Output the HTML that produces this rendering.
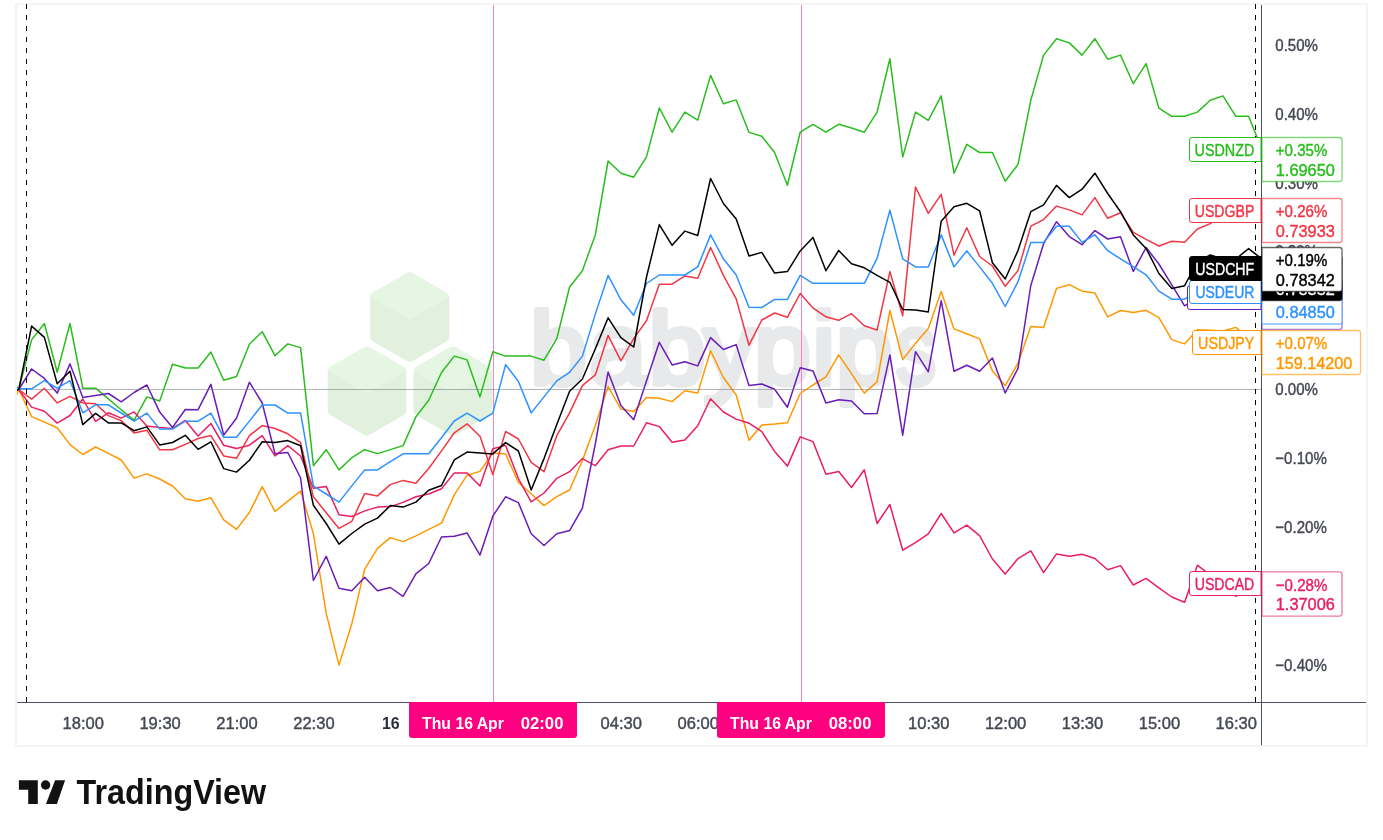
<!DOCTYPE html><html><head><meta charset="utf-8"><title>USD pairs chart</title>
<style>html,body{margin:0;padding:0;background:#fff}svg{display:block}text{font-family:"Liberation Sans", Arial, sans-serif}</style></head><body>
<svg width="1383" height="840" viewBox="0 0 1383 840">
<rect width="1383" height="840" fill="#fff"/>
<rect x="16" y="4" width="1351" height="742" fill="#fff" stroke="#f4f4f5" stroke-width="2"/>
<defs><clipPath id="pane"><rect x="17" y="5" width="1244" height="697"/></clipPath></defs>
<g id="wm">
<path d="M406.7,273.0 Q409.7,271.3 412.7,273.0 L446.2,292.3 Q449.2,294.1 449.2,297.6 L449.2,336.2 Q449.2,339.7 446.2,341.4 L412.7,360.8 Q409.7,362.5 406.7,360.8 L373.2,341.4 Q370.2,339.7 370.2,336.2 L370.2,297.6 Q370.2,294.1 373.2,292.3Z" fill="#e5f6e2"/>
<path d="M449.2,296.7 L449.2,336.7 Q449.2,339.7 446.6,341.2 L412.3,361.0 Q409.7,362.5 407.1,361.0 L372.8,341.2 Q370.2,339.7 370.2,336.7 L370.2,296.7 L409.7,319.5Z" fill="#e1f1de"/>
<path d="M364.0,347.3 Q367.0,345.6 370.0,347.3 L403.2,366.5 Q406.2,368.2 406.2,371.8 L406.2,410.0 Q406.2,413.5 403.2,415.3 L370.0,434.4 Q367.0,436.2 364.0,434.4 L330.8,415.3 Q327.8,413.5 327.8,410.0 L327.8,371.8 Q327.8,368.2 330.8,366.5Z" fill="#e5f6e2"/>
<path d="M406.2,370.9 L406.2,410.5 Q406.2,413.5 403.6,415.0 L369.6,434.7 Q367.0,436.2 364.4,434.7 L330.4,415.0 Q327.8,413.5 327.8,410.5 L327.8,370.9 L367.0,393.5Z" fill="#e1f1de"/>
<path d="M449.9,347.3 Q452.9,345.6 455.9,347.3 L489.1,366.5 Q492.1,368.2 492.1,371.8 L492.1,410.0 Q492.1,413.5 489.1,415.3 L455.9,434.4 Q452.9,436.2 449.9,434.4 L416.7,415.3 Q413.7,413.5 413.7,410.0 L413.7,371.8 Q413.7,368.2 416.7,366.5Z" fill="#e5f6e2"/>
<path d="M492.1,370.9 L492.1,410.5 Q492.1,413.5 489.5,415.0 L455.5,434.7 Q452.9,436.2 450.3,434.7 L416.3,415.0 Q413.7,413.5 413.7,410.5 L413.7,370.9 L452.9,393.5Z" fill="#e1f1de"/>
<text x="530.3 589.6 648.7 703.8 754.0 812.4 836.0" y="383.9" font-size="102" fill="#e8e9eb" stroke="#e8e9eb" stroke-width="6" stroke-linejoin="round">babypip<tspan x="896" textLength="40" lengthAdjust="spacingAndGlyphs">s</tspan></text>
</g>
<line x1="493.5" x2="493.5" y1="5" y2="702" stroke="#ff7fc0" stroke-width="1"/>
<line x1="801.5" x2="801.5" y1="5" y2="702" stroke="#ff7fc0" stroke-width="1"/>
<g clip-path="url(#pane)" fill="none" stroke-width="1.5" stroke-linejoin="round" stroke-linecap="round">
<polyline stroke="#2abd1e" points="18.8,389.5 31.6,339.9 44.4,323.5 57.2,372.2 70.0,323.5 82.8,388.2 95.6,388.2 108.4,398.8 121.2,409.8 134.1,420.2 146.9,396.9 159.7,401.0 172.5,364.3 185.3,368.0 198.1,368.0 210.9,352.0 223.7,380.3 236.5,376.5 249.4,344.2 262.2,331.7 275.0,355.7 287.8,343.9 300.6,347.6 313.4,465.7 326.2,449.7 339.0,469.9 351.8,457.7 364.7,449.7 377.5,453.6 390.3,449.6 403.1,445.6 415.9,416.9 428.7,400.3 441.5,372.5 454.3,356.1 467.1,359.9 480.0,396.9 492.8,351.8 505.6,356.1 518.4,356.1 531.2,356.1 544.0,360.2 556.8,338.6 569.6,287.0 582.4,270.7 595.3,234.9 608.1,161.0 620.9,173.3 633.7,177.2 646.5,156.9 659.3,108.0 672.1,132.1 684.9,112.1 697.7,120.2 710.6,75.4 723.4,103.8 736.2,99.9 749.0,132.4 761.8,136.3 774.6,152.5 787.4,185.2 800.2,132.2 813.0,124.3 825.9,132.2 838.7,124.3 851.5,128.0 864.3,132.2 877.1,112.1 889.9,58.8 902.7,157.0 915.5,112.1 928.3,120.3 941.2,95.9 954.0,173.2 966.8,144.4 979.6,152.5 992.4,152.5 1005.2,181.2 1018.0,164.4 1030.8,100.3 1043.6,55.1 1056.5,38.7 1069.3,42.9 1082.1,55.1 1094.9,38.7 1107.7,59.2 1120.5,55.1 1133.3,83.7 1146.1,63.6 1158.9,108.2 1171.8,116.3 1184.6,116.3 1197.4,112.1 1210.2,100.3 1223.0,95.9 1235.8,116.3 1248.6,116.3 1261.4,148.3"/>
<polyline stroke="#ff9800" points="5.9,420 18.8,389.5 31.6,416.6 44.4,422.1 57.2,427.8 70.0,444.6 82.8,454.5 95.6,447.0 108.4,453.3 121.2,460.0 134.1,478.1 146.9,473.9 159.7,479.0 172.5,486.0 185.3,498.8 198.1,501.2 210.9,497.8 223.7,519.8 236.5,529.4 249.4,512.5 262.2,486.6 275.0,511.5 287.8,501.1 300.6,491.1 313.4,533.5 326.2,613.4 339.0,665.1 351.8,623.7 364.7,569.2 377.5,548.3 390.3,537.6 403.1,541.6 415.9,535.9 428.7,529.3 441.5,523.1 454.3,494.9 467.1,475.2 480.0,471.4 492.8,453.1 505.6,453.9 518.4,482.5 531.2,493.8 544.0,505.6 556.8,496.6 569.6,490.0 582.4,460.5 595.3,425.6 608.1,386.5 620.9,409.1 633.7,411.4 646.5,397.5 659.3,398.2 672.1,401.6 684.9,390.7 697.7,393.1 710.6,350.8 723.4,377.5 736.2,395.0 749.0,440.2 761.8,424.9 774.6,424.0 787.4,422.8 800.2,393.5 813.0,385.0 825.9,376.9 838.7,354.9 851.5,373.7 864.3,393.1 877.1,381.8 889.9,310.5 902.7,359.6 915.5,343.2 928.3,328.6 941.2,291.6 954.0,328.9 966.8,333.8 979.6,338.9 992.4,370.9 1005.2,385.6 1018.0,363.2 1030.8,326.4 1043.6,327.4 1056.5,288.4 1069.3,284.7 1082.1,291.2 1094.9,293.1 1107.7,316.9 1120.5,310.5 1133.3,312.5 1146.1,310.3 1158.9,317.6 1171.8,339.6 1184.6,343.9 1197.4,329.8 1210.2,330.2 1223.0,331.0 1235.8,327.4 1248.6,338.0 1261.4,341.3"/>
<polyline stroke="#e91e63" points="18.8,389.5 31.6,407.1 44.4,411.3 57.2,423.1 70.0,415.5 82.8,399.0 95.6,421.3 108.4,412.8 121.2,418.1 134.1,411.9 146.9,426.0 159.7,427.5 172.5,428.5 185.3,420.4 198.1,436.0 210.9,423.5 223.7,445.3 236.5,448.5 249.4,445.2 262.2,435.6 275.0,455.9 287.8,445.7 300.6,456.0 313.4,488.3 326.2,486.4 339.0,514.7 351.8,516.5 364.7,510.9 377.5,507.1 390.3,506.6 403.1,502.4 415.9,496.8 428.7,494.0 441.5,488.7 454.3,472.9 467.1,472.9 480.0,486.1 492.8,448.8 505.6,445.4 518.4,478.6 531.2,501.8 544.0,493.0 556.8,478.3 569.6,471.7 582.4,458.6 595.3,465.7 608.1,449.7 620.9,446.0 633.7,446.0 646.5,422.8 659.3,426.6 672.1,442.2 684.9,440.1 697.7,425.8 710.6,398.8 723.4,412.0 736.2,419.1 749.0,423.2 761.8,431.7 774.6,451.4 787.4,466.1 800.2,436.9 813.0,441.6 825.9,474.3 838.7,471.5 851.5,487.5 864.3,469.8 877.1,523.5 889.9,504.5 902.7,550.2 915.5,542.6 928.3,533.8 941.2,513.5 954.0,532.9 966.8,525.1 979.6,535.7 992.4,559.0 1005.2,574.1 1018.0,558.6 1030.8,550.9 1043.6,572.6 1056.5,553.9 1069.3,556.2 1082.1,554.3 1094.9,558.5 1107.7,569.7 1120.5,565.6 1133.3,585.0 1146.1,578.4 1158.9,587.8 1171.8,597.0 1184.6,602.3 1197.4,565.2 1210.2,575.0 1223.0,585.0 1235.8,596.3 1248.6,590.0 1261.4,582.4"/>
<polyline stroke="#f23645" points="18.8,389.5 31.6,399.1 44.4,388.2 57.2,402.9 70.0,396.3 82.8,402.9 95.6,403.8 108.4,415.6 121.2,420.6 134.1,432.9 146.9,430.3 159.7,449.8 172.5,449.8 185.3,444.4 198.1,438.5 210.9,435.6 223.7,456.0 236.5,458.3 249.4,435.7 262.2,425.6 275.0,428.5 287.8,433.8 300.6,442.7 313.4,496.8 326.2,512.8 339.0,528.4 351.8,521.3 364.7,493.6 377.5,495.9 390.3,484.6 403.1,480.4 415.9,483.2 428.7,468.5 441.5,450.9 454.3,432.8 467.1,423.8 480.0,436.2 492.8,474.6 505.6,431.5 518.4,439.0 531.2,462.3 544.0,471.7 556.8,435.7 569.6,412.9 582.4,385.6 595.3,374.9 608.1,335.4 620.9,360.8 633.7,338.6 646.5,320.8 659.3,284.2 672.1,284.2 684.9,275.9 697.7,278.2 710.6,247.5 723.4,275.4 736.2,298.9 749.0,345.2 761.8,320.0 774.6,313.0 787.4,317.3 800.2,293.5 813.0,307.9 825.9,316.8 838.7,320.3 851.5,313.7 864.3,325.7 877.1,330.1 889.9,271.6 902.7,315.8 915.5,187.0 928.3,213.3 941.2,194.4 954.0,255.2 966.8,227.8 979.6,256.5 992.4,266.0 1005.2,286.3 1018.0,270.6 1030.8,226.2 1043.6,219.6 1056.5,206.1 1069.3,209.9 1082.1,214.9 1094.9,197.6 1107.7,218.3 1120.5,212.7 1133.3,232.4 1146.1,239.4 1158.9,246.0 1171.8,241.3 1184.6,242.2 1197.4,229.0 1210.2,223.6 1223.0,215.0 1235.8,211.0 1248.6,210.4 1261.4,210.4"/>
<polyline stroke="#6a1cb8" points="18.8,389.5 31.6,369.0 44.4,378.4 57.2,393.1 70.0,363.9 82.8,397.4 95.6,395.5 108.4,393.5 121.2,401.8 134.1,392.5 146.9,385.0 159.7,412.1 172.5,427.4 185.3,409.5 198.1,409.7 210.9,384.3 223.7,435.0 236.5,418.3 249.4,382.2 262.2,403.0 275.0,453.7 287.8,452.5 300.6,478.0 313.4,580.5 326.2,556.3 339.0,588.3 351.8,590.8 364.7,577.3 377.5,590.8 390.3,587.5 403.1,596.4 415.9,573.9 428.7,563.5 441.5,537.0 454.3,536.3 467.1,533.1 480.0,555.1 492.8,516.2 505.6,496.8 518.4,502.6 531.2,533.8 544.0,545.5 556.8,533.8 569.6,530.6 582.4,508.1 595.3,444.0 608.1,371.9 620.9,405.4 633.7,419.8 646.5,381.0 659.3,342.3 672.1,364.9 684.9,361.7 697.7,365.9 710.6,337.6 723.4,349.5 736.2,344.6 749.0,385.6 761.8,384.0 774.6,389.3 787.4,407.2 800.2,367.7 813.0,370.9 825.9,402.9 838.7,399.7 851.5,401.0 864.3,413.8 877.1,413.6 889.9,354.9 902.7,435.2 915.5,351.7 928.3,371.8 941.2,300.7 954.0,371.3 966.8,365.3 979.6,371.3 992.4,358.1 1005.2,392.9 1018.0,368.4 1030.8,285.5 1043.6,243.7 1056.5,221.7 1069.3,236.6 1082.1,244.7 1094.9,230.6 1107.7,239.0 1120.5,236.8 1133.3,271.4 1146.1,247.5 1158.9,264.0 1171.8,284.9 1184.6,305.8 1197.4,298.0 1210.2,298.0 1223.0,298.0 1235.8,298.0 1248.6,298.0 1261.4,298.0"/>
<line x1="17" x2="1261" y1="389.5" y2="389.5" stroke="#787b86" stroke-opacity="0.56" stroke-width="1"/>
<polyline stroke="#2d92ff" points="5.9,378 18.8,388.8 31.6,388.8 44.4,380.7 57.2,388.2 70.0,380.7 82.8,412.8 95.6,404.8 108.4,404.8 121.2,413.0 134.1,421.2 146.9,413.1 159.7,429.1 172.5,429.1 185.3,421.2 198.1,421.2 210.9,413.1 223.7,437.3 236.5,437.3 249.4,421.1 262.2,405.0 275.0,405.0 287.8,413.1 300.6,413.1 313.4,485.9 326.2,494.0 339.0,502.1 351.8,485.9 364.7,469.9 377.5,469.9 390.3,461.7 403.1,453.8 415.9,453.8 428.7,453.8 441.5,437.7 454.3,421.0 467.1,413.1 480.0,421.0 492.8,413.1 505.6,364.6 518.4,381.5 531.2,412.9 544.0,396.9 556.8,380.9 569.6,372.4 582.4,356.1 595.3,314.1 608.1,275.4 620.9,299.8 633.7,315.3 646.5,283.5 659.3,275.0 672.1,275.0 684.9,275.0 697.7,266.9 710.6,234.9 723.4,258.8 736.2,275.0 749.0,307.3 761.8,307.5 774.6,299.4 787.4,299.4 800.2,275.4 813.0,283.3 825.9,283.3 838.7,283.3 851.5,283.3 864.3,283.3 877.1,258.4 889.9,210.1 902.7,258.8 915.5,266.9 928.3,266.9 941.2,234.9 954.0,266.9 966.8,250.9 979.6,266.9 992.4,283.3 1005.2,306.5 1018.0,281.7 1030.8,242.4 1043.6,242.4 1056.5,226.2 1069.3,226.2 1082.1,242.4 1094.9,234.7 1107.7,250.7 1120.5,258.8 1133.3,266.7 1146.1,274.8 1158.9,291.1 1171.8,299.2 1184.6,299.2 1197.4,291.0 1210.2,291.0 1223.0,291.0 1235.8,291.0 1248.6,291.0 1261.4,291.0"/>
<polyline stroke="#000000" points="5.9,393 18.8,389.5 31.6,326.1 44.4,337.4 57.2,383.7 70.0,371.3 82.8,424.6 95.6,413.4 108.4,422.9 121.2,422.9 134.1,430.7 146.9,426.9 159.7,444.9 172.5,442.5 185.3,435.3 198.1,449.3 210.9,441.8 223.7,468.6 236.5,472.1 249.4,460.2 262.2,441.7 275.0,442.6 287.8,440.6 300.6,445.8 313.4,505.3 326.2,523.5 339.0,544.2 351.8,533.5 364.7,524.1 377.5,518.1 390.3,505.6 403.1,507.1 415.9,502.1 428.7,490.2 441.5,485.5 454.3,459.8 467.1,452.1 480.0,453.0 492.8,453.9 505.6,442.6 518.4,451.0 531.2,490.0 544.0,458.6 556.8,424.4 569.6,391.3 582.4,379.0 595.3,348.9 608.1,317.8 620.9,337.6 633.7,347.0 646.5,277.0 659.3,224.6 672.1,245.3 684.9,231.1 697.7,235.5 710.6,178.5 723.4,203.5 736.2,218.9 749.0,256.0 761.8,252.4 774.6,273.1 787.4,271.6 800.2,250.9 813.0,237.4 825.9,270.7 838.7,250.5 851.5,263.7 864.3,267.8 877.1,275.4 889.9,282.3 902.7,309.5 915.5,310.1 928.3,312.0 941.2,221.2 954.0,206.7 966.8,203.3 979.6,210.8 992.4,262.8 1005.2,279.0 1018.0,250.6 1030.8,211.7 1043.6,204.8 1056.5,185.4 1069.3,197.6 1082.1,189.2 1094.9,173.2 1107.7,193.5 1120.5,211.7 1133.3,234.9 1146.1,248.4 1158.9,273.5 1171.8,288.5 1184.6,285.7 1197.4,262.0 1210.2,255.0 1223.0,259.0 1235.8,259.0 1248.6,248.6 1261.4,258.6"/>
</g>
<line x1="26.5" x2="26.5" y1="4" y2="702" stroke="#000" stroke-width="1" stroke-dasharray="5 6"/>
<line x1="1255.5" x2="1255.5" y1="4" y2="702" stroke="#000" stroke-width="1" stroke-dasharray="5 6"/>
<line x1="1261.5" x2="1261.5" y1="5" y2="745" stroke="#4d5160" stroke-width="1"/>
<line x1="17" x2="1366" y1="702.5" y2="702.5" stroke="#4d5160" stroke-width="1"/>
<text x="1275.3" y="50.7" font-size="17" fill="#454853" stroke="#454853" stroke-width="0.42" textLength="42.7" lengthAdjust="spacingAndGlyphs">0.50%</text>
<text x="1275.3" y="119.6" font-size="17" fill="#454853" stroke="#454853" stroke-width="0.42" textLength="42.7" lengthAdjust="spacingAndGlyphs">0.40%</text>
<text x="1275.3" y="188.5" font-size="17" fill="#454853" stroke="#454853" stroke-width="0.42" textLength="42.7" lengthAdjust="spacingAndGlyphs">0.30%</text>
<text x="1275.3" y="257.4" font-size="17" fill="#454853" stroke="#454853" stroke-width="0.42" textLength="42.7" lengthAdjust="spacingAndGlyphs">0.20%</text>
<text x="1275.3" y="326.3" font-size="17" fill="#454853" stroke="#454853" stroke-width="0.42" textLength="42.7" lengthAdjust="spacingAndGlyphs">0.10%</text>
<text x="1275.3" y="395.2" font-size="17" fill="#454853" stroke="#454853" stroke-width="0.42" textLength="42.7" lengthAdjust="spacingAndGlyphs">0.00%</text>
<text x="1275.3" y="464.1" font-size="17" fill="#454853" stroke="#454853" stroke-width="0.42" textLength="51.5" lengthAdjust="spacingAndGlyphs">−0.10%</text>
<text x="1275.3" y="533.0" font-size="17" fill="#454853" stroke="#454853" stroke-width="0.42" textLength="51.5" lengthAdjust="spacingAndGlyphs">−0.20%</text>
<text x="1275.3" y="601.9" font-size="17" fill="#454853" stroke="#454853" stroke-width="0.42" textLength="51.5" lengthAdjust="spacingAndGlyphs">−0.30%</text>
<text x="1275.3" y="670.8" font-size="17" fill="#454853" stroke="#454853" stroke-width="0.42" textLength="51.5" lengthAdjust="spacingAndGlyphs">−0.40%</text>
<path d="M1190,285.5 H1261 V309.5 H1190 Q1187.5,309.5 1187.5,307 V288 Q1187.5,285.5 1190,285.5Z" fill="#fff" stroke="#6a1cb8" stroke-width="1"/><text x="1193.9" y="302.0" font-size="17" fill="#6a1cb8" stroke="#6a1cb8" stroke-width="0.42" textLength="60.4" lengthAdjust="spacingAndGlyphs">USDAUD</text>
<path d="M1262,285.5 H1339.5 Q1342.0,285.5 1342.0,288 V327 Q1342.0,329.5 1339.5,329.5 H1262Z" fill="#fff" stroke="#6a1cb8" stroke-width="1.3" stroke-opacity="0.6"/><text x="1275.8" y="302.2" font-size="17" fill="#6a1cb8" stroke="#6a1cb8" stroke-width="0.42" textLength="51.5" lengthAdjust="spacingAndGlyphs">+0.13%</text><text x="1275.8" y="321.8" font-size="17" fill="#6a1cb8" stroke="#6a1cb8" stroke-width="0.42" textLength="59.0" lengthAdjust="spacingAndGlyphs">1.39557</text>
<path d="M1192,280.5 H1261 V303.5 H1192 Q1189.5,303.5 1189.5,301 V283 Q1189.5,280.5 1192,280.5Z" fill="#fff" stroke="#2d92ff" stroke-width="1"/><text x="1195.4" y="298.2" font-size="17" fill="#2d92ff" stroke="#2d92ff" stroke-width="0.42" textLength="58.9" lengthAdjust="spacingAndGlyphs">USDEUR</text>
<path d="M1262,280.0 H1339.5 Q1342.0,280.0 1342.0,282.5 V321.5 Q1342.0,324.0 1339.5,324.0 H1262Z" fill="#fff" stroke="#2d92ff" stroke-width="1.3" stroke-opacity="0.6"/><text x="1275.8" y="298.7" font-size="17" fill="#2d92ff" stroke="#2d92ff" stroke-width="0.42" textLength="51.5" lengthAdjust="spacingAndGlyphs">+0.14%</text><text x="1275.8" y="318.3" font-size="17" fill="#2d92ff" stroke="#2d92ff" stroke-width="0.42" textLength="59.0" lengthAdjust="spacingAndGlyphs">0.84850</text>
<path d="M1192,256.5 H1261 V280.5 H1192 Q1189.5,280.5 1189.5,278 V259 Q1189.5,256.5 1192,256.5Z" fill="#000" stroke="#000" stroke-width="1"/><text x="1195.2" y="275.0" font-size="17" fill="#fff" stroke="#fff" stroke-width="0.42" textLength="59.1" lengthAdjust="spacingAndGlyphs">USDCHF</text>
<path d="M1262,256.5 H1339.5 Q1342.0,256.5 1342.0,259 V298 Q1342.0,300.5 1339.5,300.5 H1262Z" fill="#000" stroke="#000" stroke-width="1.3" stroke-opacity="0.6"/><text x="1275.8" y="275.2" font-size="17" fill="#fff" stroke="#fff" stroke-width="0.42" textLength="51.5" lengthAdjust="spacingAndGlyphs">+0.19%</text><text x="1275.8" y="294.8" font-size="17" fill="#fff" stroke="#fff" stroke-width="0.42" textLength="59.0" lengthAdjust="spacingAndGlyphs">0.78352</text>
<path d="M1262,247.5 H1339.5 Q1342.0,247.5 1342.0,250 V289 Q1342.0,291.5 1339.5,291.5 H1262Z" fill="#fff" stroke="#000" stroke-width="1.3" stroke-opacity="0.6"/><text x="1275.8" y="266.2" font-size="17" fill="#000" stroke="#000" stroke-width="0.42" textLength="51.5" lengthAdjust="spacingAndGlyphs">+0.19%</text><text x="1275.8" y="285.8" font-size="17" fill="#000" stroke="#000" stroke-width="0.42" textLength="59.0" lengthAdjust="spacingAndGlyphs">0.78342</text>
<path d="M1192,137.5 H1261 V161.5 H1192 Q1189.5,161.5 1189.5,159 V140 Q1189.5,137.5 1192,137.5Z" fill="#fff" stroke="#2abd1e" stroke-width="1"/><text x="1194.6" y="156.0" font-size="17" fill="#2abd1e" stroke="#2abd1e" stroke-width="0.42" textLength="59.7" lengthAdjust="spacingAndGlyphs">USDNZD</text>
<path d="M1262,137.5 H1339.5 Q1342.0,137.5 1342.0,140 V179 Q1342.0,181.5 1339.5,181.5 H1262Z" fill="#fff" stroke="#2abd1e" stroke-width="1.3" stroke-opacity="0.6"/><text x="1275.8" y="156.2" font-size="17" fill="#2abd1e" stroke="#2abd1e" stroke-width="0.42" textLength="51.5" lengthAdjust="spacingAndGlyphs">+0.35%</text><text x="1275.8" y="175.8" font-size="17" fill="#2abd1e" stroke="#2abd1e" stroke-width="0.42" textLength="59.0" lengthAdjust="spacingAndGlyphs">1.69650</text>
<path d="M1192,198.5 H1261 V222.5 H1192 Q1189.5,222.5 1189.5,220 V201 Q1189.5,198.5 1192,198.5Z" fill="#fff" stroke="#f23645" stroke-width="1"/><text x="1194.8" y="217.0" font-size="17" fill="#f23645" stroke="#f23645" stroke-width="0.42" textLength="59.5" lengthAdjust="spacingAndGlyphs">USDGBP</text>
<path d="M1262,198.5 H1339.5 Q1342.0,198.5 1342.0,201 V240 Q1342.0,242.5 1339.5,242.5 H1262Z" fill="#fff" stroke="#f23645" stroke-width="1.3" stroke-opacity="0.6"/><text x="1275.8" y="217.2" font-size="17" fill="#f23645" stroke="#f23645" stroke-width="0.42" textLength="51.5" lengthAdjust="spacingAndGlyphs">+0.26%</text><text x="1275.8" y="236.8" font-size="17" fill="#f23645" stroke="#f23645" stroke-width="0.42" textLength="59.0" lengthAdjust="spacingAndGlyphs">0.73933</text>
<path d="M1195,330.5 H1261 V354.5 H1195 Q1192.5,354.5 1192.5,352 V333 Q1192.5,330.5 1195,330.5Z" fill="#fff" stroke="#ff9800" stroke-width="1"/><text x="1198.1" y="349.0" font-size="17" fill="#ff9800" stroke="#ff9800" stroke-width="0.42" textLength="56.2" lengthAdjust="spacingAndGlyphs">USDJPY</text>
<path d="M1262,330.5 H1358 Q1360.5,330.5 1360.5,333 V372 Q1360.5,374.5 1358,374.5 H1262Z" fill="#fff" stroke="#ff9800" stroke-width="1.3" stroke-opacity="0.6"/><text x="1275.8" y="349.2" font-size="17" fill="#ff9800" stroke="#ff9800" stroke-width="0.42" textLength="51.5" lengthAdjust="spacingAndGlyphs">+0.07%</text><text x="1275.8" y="368.8" font-size="17" fill="#ff9800" stroke="#ff9800" stroke-width="0.42" textLength="76.6" lengthAdjust="spacingAndGlyphs">159.14200</text>
<path d="M1192,571.5 H1261 V595.5 H1192 Q1189.5,595.5 1189.5,593 V574 Q1189.5,571.5 1192,571.5Z" fill="#fff" stroke="#e91e63" stroke-width="1"/><text x="1194.8" y="590.0" font-size="17" fill="#e91e63" stroke="#e91e63" stroke-width="0.42" textLength="59.5" lengthAdjust="spacingAndGlyphs">USDCAD</text>
<path d="M1262,571.9 H1339.5 Q1342.0,571.9 1342.0,574.4 V613.6 Q1342.0,616.1 1339.5,616.1 H1262Z" fill="#fff" stroke="#e91e63" stroke-width="1.3" stroke-opacity="0.6"/><text x="1275.8" y="590.6" font-size="17" fill="#e91e63" stroke="#e91e63" stroke-width="0.42" textLength="51.5" lengthAdjust="spacingAndGlyphs">−0.28%</text><text x="1275.8" y="610.2" font-size="17" fill="#e91e63" stroke="#e91e63" stroke-width="0.42" textLength="59.0" lengthAdjust="spacingAndGlyphs">1.37006</text>
<text x="62.6" y="728.8" font-size="17" fill="#454853" stroke="#454853" stroke-width="0.42" textLength="41.4" lengthAdjust="spacingAndGlyphs">18:00</text>
<text x="139.4" y="728.8" font-size="17" fill="#454853" stroke="#454853" stroke-width="0.42" textLength="41.4" lengthAdjust="spacingAndGlyphs">19:30</text>
<text x="216.3" y="728.8" font-size="17" fill="#454853" stroke="#454853" stroke-width="0.42" textLength="41.4" lengthAdjust="spacingAndGlyphs">21:00</text>
<text x="293.2" y="728.8" font-size="17" fill="#454853" stroke="#454853" stroke-width="0.42" textLength="41.4" lengthAdjust="spacingAndGlyphs">22:30</text>
<text x="600.6" y="728.8" font-size="17" fill="#454853" stroke="#454853" stroke-width="0.42" textLength="41.4" lengthAdjust="spacingAndGlyphs">04:30</text>
<text x="677.5" y="728.8" font-size="17" fill="#454853" stroke="#454853" stroke-width="0.42" textLength="41.4" lengthAdjust="spacingAndGlyphs">06:00</text>
<text x="908.1" y="728.8" font-size="17" fill="#454853" stroke="#454853" stroke-width="0.42" textLength="41.4" lengthAdjust="spacingAndGlyphs">10:30</text>
<text x="984.9" y="728.8" font-size="17" fill="#454853" stroke="#454853" stroke-width="0.42" textLength="41.4" lengthAdjust="spacingAndGlyphs">12:00</text>
<text x="1061.8" y="728.8" font-size="17" fill="#454853" stroke="#454853" stroke-width="0.42" textLength="41.4" lengthAdjust="spacingAndGlyphs">13:30</text>
<text x="1138.7" y="728.8" font-size="17" fill="#454853" stroke="#454853" stroke-width="0.42" textLength="41.4" lengthAdjust="spacingAndGlyphs">15:00</text>
<text x="1215.5" y="728.8" font-size="17" fill="#454853" stroke="#454853" stroke-width="0.42" textLength="41.4" lengthAdjust="spacingAndGlyphs">16:30</text>
<text x="382.0" y="728.8" font-size="17" fill="#2a2e39" stroke="#2a2e39" stroke-width="0" font-weight="bold" textLength="17.7" lengthAdjust="spacingAndGlyphs">16</text>
<path d="M409,702 H577 V735 Q577,738 574,738 H412 Q409,738 409,735Z" fill="#ff0080"/>
<text x="422.1" y="728.8" font-size="17" fill="#fff" stroke="#fff" stroke-width="0" font-weight="bold" textLength="81.8" lengthAdjust="spacingAndGlyphs">Thu 16 Apr</text>
<text x="520.8" y="728.8" font-size="17" fill="#fff" stroke="#fff" stroke-width="0" font-weight="bold" textLength="42.6" lengthAdjust="spacingAndGlyphs">02:00</text>
<path d="M717,702 H885 V735 Q885,738 882,738 H720 Q717,738 717,735Z" fill="#ff0080"/>
<text x="730.1" y="728.8" font-size="17" fill="#fff" stroke="#fff" stroke-width="0" font-weight="bold" textLength="81.8" lengthAdjust="spacingAndGlyphs">Thu 16 Apr</text>
<text x="828.8" y="728.8" font-size="17" fill="#fff" stroke="#fff" stroke-width="0" font-weight="bold" textLength="42.6" lengthAdjust="spacingAndGlyphs">08:00</text>
<g fill="#121212"><path d="M18.9,780.2 H37.8 V803.9 H28.2 V789.8 H18.9Z"/><circle cx="45.6" cy="785" r="4.7"/><path d="M55.1,780.2 H65.1 L56.9,803.9 H46Z"/></g>
<text x="76.6" y="804.2" font-size="34.5" font-weight="bold" fill="#121212" textLength="189.5" lengthAdjust="spacingAndGlyphs">TradingView</text>
</svg></body></html>
